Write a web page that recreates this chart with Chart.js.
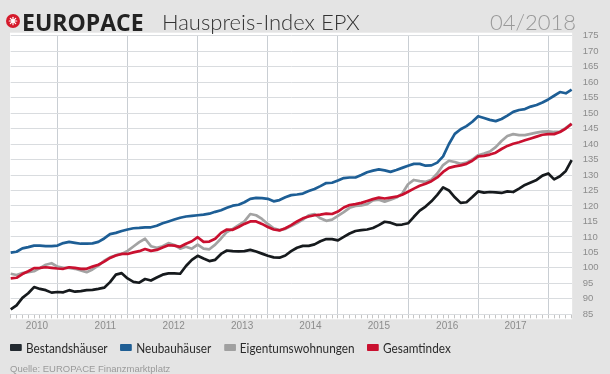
<!DOCTYPE html>
<html><head><meta charset="utf-8">
<script src="https://cdn.jsdelivr.net/npm/chart.js@4.4.1/dist/chart.umd.min.js"></script>
<style>
html,body{margin:0;padding:0;}
body{width:610px;height:374px;background:#e4e4e4;position:relative;overflow:hidden;font-family:"Liberation Sans",Arial,sans-serif;}
#chart{position:absolute;left:0;top:0;}
.hdr{position:absolute;top:11px;line-height:22px;font-size:22px;white-space:nowrap;}
#brand{left:22px;font-family:"Open Sans",sans-serif;font-weight:700;color:#222;font-size:23px;}
#title{left:162px;font-family:Lato,sans-serif;font-weight:300;color:#333;}
#date{right:34px;font-family:Lato,sans-serif;font-weight:300;color:#999;}
#logo{position:absolute;left:6px;top:14px;width:14px;height:14px}
#legend{position:absolute;left:10px;top:339px;height:16px;display:flex;align-items:center;font-family:Lato,sans-serif;font-size:14px;color:#2b2b2b;white-space:nowrap;transform:scaleX(0.84);transform-origin:0 50%}
.item{display:flex;align-items:center;margin-right:15px}
.sw{width:14px;height:7px;margin-right:5px;border-radius:1px}
#source{position:absolute;left:10px;top:363px;font-size:9.5px;color:#9a9a9a;line-height:12px}
</style></head>
<body>
<canvas id="chart" width="610" height="374"></canvas>
<svg id="logo" viewBox="0 0 26 26"><circle cx="13" cy="13" r="13" fill="#d51a2b"/><g stroke="#fff" stroke-width="2.2" stroke-linecap="round"><line x1="13" y1="6" x2="13" y2="20"/><line x1="6" y1="13" x2="20" y2="13"/><line x1="8" y1="8" x2="18" y2="18"/><line x1="18" y1="8" x2="8" y2="18"/></g><circle cx="13" cy="13" r="3.5" fill="#fff"/></svg>
<div class="hdr" id="brand">EUROPACE</div>
<div class="hdr" id="title">Hauspreis-Index EPX</div>
<div class="hdr" id="date">04/2018</div>
<div id="legend"></div>
<div id="source">Quelle: EUROPACE Finanzmarktplatz</div>
<script>
// ---- data ----
const categories = [];
for (let k = 0; k < 97; k++) {
  const m = (3 + k) % 12 + 1;
  const y = 2010 + Math.floor((3 + k) / 12);
  categories.push(String(m).padStart(2, '0') + '/' + y);
}
const yearLabels = ['2010', '2011', '2012', '2013', '2014', '2015', '2016', '2017'];
const yTickValues = [85, 90, 95, 100, 105, 110, 115, 120, 125, 130, 135, 140, 145, 150, 155, 160, 165, 170, 175];

const bestandshaeuser = [86.6, 87.9, 90.3, 91.8, 93.8, 93.2, 92.8, 92.0, 92.2, 92.1, 92.8, 92.3, 92.5, 92.8, 92.9, 93.2, 93.6, 95.4, 97.8, 98.3,
  96.6, 95.5, 95.2, 96.4, 95.9, 96.9, 97.8, 98.2, 98.2, 98.1, 100.6, 102.6, 103.9, 103.0, 102.2, 102.6, 104.5, 105.6, 105.4, 105.3,
  105.4, 105.8, 105.3, 104.6, 103.9, 103.4, 103.3, 104.0, 105.4, 106.5, 107.1, 107.1, 107.6, 108.6, 109.3, 109.3, 108.9, 110.0, 111.1, 111.9,
  112.2, 112.4, 112.9, 113.8, 114.9, 114.6, 113.9, 114.0, 114.4, 116.5, 118.5, 119.8, 121.5, 123.6, 126.0, 125.0, 122.8, 121.0, 121.2, 122.9,
  124.7, 124.3, 124.5, 124.4, 124.2, 124.7, 124.5, 125.6, 126.8, 127.6, 128.4, 129.8, 130.5, 128.6, 129.6, 131.3, 134.8];
const neubauhaeuser = [104.9, 105.2, 106.3, 106.7, 107.2, 107.2, 107.0, 107.0, 107.2, 108.0, 108.4, 108.1, 107.8, 107.8, 107.9, 108.4, 109.5, 110.9, 111.3, 111.9,
  112.4, 112.8, 112.9, 113.1, 113.1, 113.6, 114.4, 115.0, 115.6, 116.2, 116.6, 116.8, 117.0, 117.2, 117.5, 118.1, 118.6, 119.4, 120.1, 120.4,
  121.2, 122.3, 122.6, 122.5, 122.3, 121.5, 121.9, 122.8, 123.5, 123.7, 124.0, 124.8, 125.5, 126.4, 127.4, 127.5, 128.2, 129.0, 129.2, 129.2,
  130.0, 130.9, 131.4, 131.8, 131.5, 131.0, 131.6, 132.3, 133.0, 133.6, 133.6, 133.0, 133.1, 134.0, 136.0, 140.0, 143.3, 144.8, 145.8, 147.2,
  149.0, 148.4, 147.8, 147.4, 148.1, 149.2, 150.4, 151.0, 151.3, 152.1, 152.6, 153.4, 154.4, 155.6, 156.8, 156.4, 157.6];
const eigentumswohnungen = [98.1, 97.7, 98.3, 98.6, 98.9, 99.9, 101.0, 101.5, 100.4, 100.0, 100.0, 99.7, 99.2, 98.6, 99.5, 100.7, 102.3, 103.4, 104.1, 104.5,
  105.5, 106.9, 108.3, 109.4, 107.0, 106.5, 107.0, 108.0, 107.4, 106.2, 106.8, 106.2, 107.5, 106.2, 106.0, 107.5, 109.5, 111.6, 112.6, 113.8,
  115.0, 117.4, 117.0, 115.8, 114.2, 112.8, 112.2, 112.6, 113.5, 114.5, 115.6, 117.0, 117.4, 116.0, 115.2, 115.6, 116.8, 118.0, 119.4, 120.0,
  120.2, 120.6, 121.8, 122.0, 121.4, 122.0, 122.7, 124.0, 127.0, 128.4, 128.0, 127.8, 128.5, 130.5, 133.2, 134.6, 134.2, 133.6, 134.0, 135.0,
  136.4, 136.9, 137.6, 139.0, 141.0, 142.6, 143.2, 142.9, 142.9, 143.3, 143.7, 144.0, 144.1, 143.9, 144.0, 145.2, 146.6];
const gesamtindex = [96.6, 96.8, 98.0, 98.9, 99.9, 100.0, 100.2, 100.0, 99.8, 99.7, 100.2, 100.0, 99.7, 99.7, 100.4, 101.0, 102.0, 103.2, 104.0, 104.5,
  104.5, 105.0, 105.4, 106.1, 105.5, 105.8, 106.6, 107.3, 107.2, 106.8, 107.8, 108.6, 109.9, 108.4, 108.5, 109.4, 111.3, 112.4, 112.3, 113.2,
  114.2, 115.0, 115.0, 114.2, 113.2, 112.4, 112.1, 112.8, 113.8, 115.0, 116.0, 116.6, 117.0, 117.2, 117.5, 117.4, 118.2, 119.5, 120.3, 120.6,
  121.0, 121.6, 122.2, 122.7, 122.4, 122.7, 123.0, 123.6, 124.6, 125.6, 126.5, 127.2, 128.0, 129.2, 131.0, 132.3, 132.8, 133.1, 133.6, 134.6,
  136.0, 136.2, 136.6, 137.2, 138.4, 139.4, 140.1, 140.6, 141.2, 141.8, 142.4, 143.0, 143.2, 143.2, 143.9, 145.0, 146.5];

const seriesNames = ['Bestandshäuser', 'Neubauhäuser', 'Eigentumswohnungen', 'Gesamtindex'];
const seriesColors = ['#161a1d', '#1d5e95', '#a3a3a3', '#c9102f'];
const swatchColors = ['#232a30', '#1f5e94', '#a0a0a0', '#c9102f'];
const seriesData = [bestandshaeuser, neubauhaeuser, eigentumswohnungen, gesamtindex];
const drawOrder = [1, 2, 3, 0];

// year label positions along the month index axis
const yearPos = yearLabels.map((_, k) => 4.5 + 11.7 * k);

// ---- legend (HTML) ----
const legendEl = document.getElementById('legend');
seriesNames.forEach((n, i) => {
  const it = document.createElement('div'); it.className = 'item';
  const sw = document.createElement('span'); sw.className = 'sw'; sw.style.background = swatchColors[i];
  const tx = document.createElement('span'); tx.textContent = n;
  it.appendChild(sw); it.appendChild(tx); legendEl.appendChild(it);
});

const bgPlugin = {
  id: 'bg',
  beforeDraw(chart) {
    const { ctx, chartArea: a } = chart;
    ctx.save();
    ctx.fillStyle = '#ffffff';
    ctx.fillRect(a.left - 0.7, a.top - 3, a.right - a.left + 1.2, a.bottom - a.top + 8);
    ctx.restore();
  }
};

new Chart(document.getElementById('chart'), {
  type: 'line',
  data: {
    labels: categories,
    datasets: seriesNames.map((n, i) => ({
      label: n, data: seriesData[i], borderColor: seriesColors[i], backgroundColor: seriesColors[i],
      borderWidth: 2.7, pointRadius: 0, tension: 0, fill: false, order: drawOrder[i],
      borderJoinStyle: 'round', xAxisID: 'x', yAxisID: 'y'
    }))
  },
  options: {
    responsive: false, animation: false, devicePixelRatio: 1,
    layout: { padding: { left: 10.7, right: 0.5, top: 35.7, bottom: 39.7 } },
    plugins: { legend: { display: false }, tooltip: { enabled: false } },
    scales: {
      x: {
        type: 'category', position: 'bottom', weight: 0, offset: false,
        ticks: { display: false, autoSkip: false },
        grid: {
          color: c => (categories[c.index] && categories[c.index].startsWith('12/')) ? '#c9ced3' : 'rgba(0,0,0,0)',
          lineWidth: 1, drawTicks: true, tickLength: 4, tickColor: '#c4c4c4', tickWidth: 1
        },
        border: { display: false }
      },
      xYears: {
        type: 'linear', position: 'bottom', weight: 1, min: 0, max: categories.length - 1,
        afterBuildTicks: s => { s.ticks = yearPos.map(v => ({ value: v })); },
        ticks: { callback: (v, i) => yearLabels[i], autoSkip: false, maxRotation: 0, padding: 2,
                 color: '#8c8c8c', font: { family: 'Liberation Sans', size: 10 } },
        grid: { display: false, drawTicks: false }, border: { display: false }
      },
      y: {
        position: 'right', min: 85, max: 175,
        afterBuildTicks: s => { s.ticks = yTickValues.map(v => ({ value: v })); },
        ticks: { padding: 11, color: '#8c8c8c', font: { family: 'Liberation Sans', size: 9.5 }, crossAlign: 'near' },
        grid: { color: '#d9dcdf', lineWidth: 1, drawTicks: false }, border: { display: false }
      }
    }
  },
  plugins: [bgPlugin]
});
</script>
</body></html>
